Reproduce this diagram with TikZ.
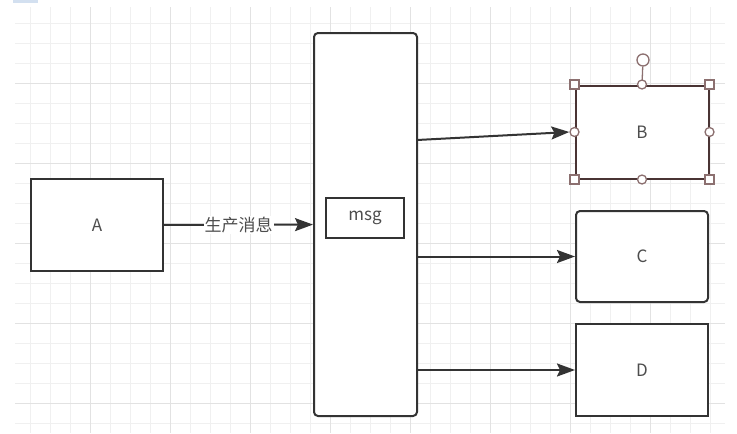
\documentclass[tikz,border=0pt]{standalone}
\usepackage{fontspec}
\setmainfont{Noto Sans CJK SC}
\usepackage{xcolor}
\usepackage{tikz}
\usetikzlibrary{arrows.meta,positioning,calc}

\definecolor{boxline}{HTML}{333333}
\definecolor{selline}{HTML}{4A3434}
\definecolor{handleline}{HTML}{8C7070}
\definecolor{gridminor}{HTML}{F0F0F0}
\definecolor{gridmajor}{HTML}{E2E2E2}
\definecolor{txtgray}{HTML}{4D4D4D}
\definecolor{tabblue}{HTML}{D3E0F0}

\begin{document}
\begin{tikzpicture}[
  x=1pt, y=-1pt,
  box/.style={draw=boxline, line width=2pt, fill=white, inner sep=0pt,
    text=txtgray, font=\fontsize{17}{19}\selectfont},
  roundbox/.style={box, rounded corners=4pt},
  arrow/.style={-{Stealth[length=18pt, width=13pt, inset=3pt]}, line width=2pt, draw=boxline},
  edgelabel/.style={fill=white, inner sep=1pt, text=txtgray, font=\fontsize{17}{19}\selectfont},
  handlesq/.style={draw=handleline, fill=white, line width=1.3pt, minimum size=9pt, inner sep=0pt},
  handlec/.style={draw=handleline, fill=white, line width=1.3pt, circle, minimum size=9pt, inner sep=0pt},
]
\useasboundingbox (0,0) rectangle (737,434);
\fill[white] (0,0) rectangle (737,434);
\fill[tabblue] (13,0) rectangle (38,2.5);

% grid
\foreach \x in {30,50,...,710} \draw[gridminor, line width=1pt] (\x,7) -- (\x,433);
\foreach \y in {23,43,...,423} \draw[gridminor, line width=1pt] (15,\y) -- (725,\y);
\foreach \x in {90,170,...,650} \draw[gridmajor, line width=1pt] (\x,7) -- (\x,433);
\foreach \y in {83,163,...,403} \draw[gridmajor, line width=1pt] (15,\y) -- (725,\y);

% boxes
\node[box, minimum width=132pt, minimum height=92pt] (A) at (97,225) {A};
\node[roundbox, minimum width=103pt, minimum height=383pt] (queue) at (365.5,224.5) {};
\node[box, minimum width=78pt, minimum height=40pt] (msg) at (365,218) {msg};
\node[box, draw=selline, minimum width=133pt, minimum height=93pt] (B) at (642,132) {B};
\node[roundbox, minimum width=132pt, minimum height=91pt] (C) at (642,256.5) {C};
\node[box, minimum width=132pt, minimum height=92pt] (D) at (642,370) {D};

% selection handles
\node[handlec, minimum size=12pt] (rot) at (643,60) {};
\draw[handleline, line width=1.3pt] (rot) -- (B.north);
\node[handlesq] (hnw) at (B.north west) {};
\node[handlesq] (hne) at (B.north east) {};
\node[handlesq] (hsw) at (B.south west) {};
\node[handlesq] (hse) at (B.south east) {};
\node[handlec] (hn) at (B.north) {};
\node[handlec] (hs) at (B.south) {};
\node[handlec] (hw) at (B.west) {};
\node[handlec] (he) at (B.east) {};

% connectors
\coordinate (outB) at (417,140);
\draw[arrow] (A) -- node[edgelabel] {生产消息} (queue);
\draw[arrow] (outB) -- (hw.west);
\draw[arrow] (queue.east |- C.west) -- (C.west);
\draw[arrow] (queue.east |- D.west) -- (D.west);
\end{tikzpicture}
\end{document}
